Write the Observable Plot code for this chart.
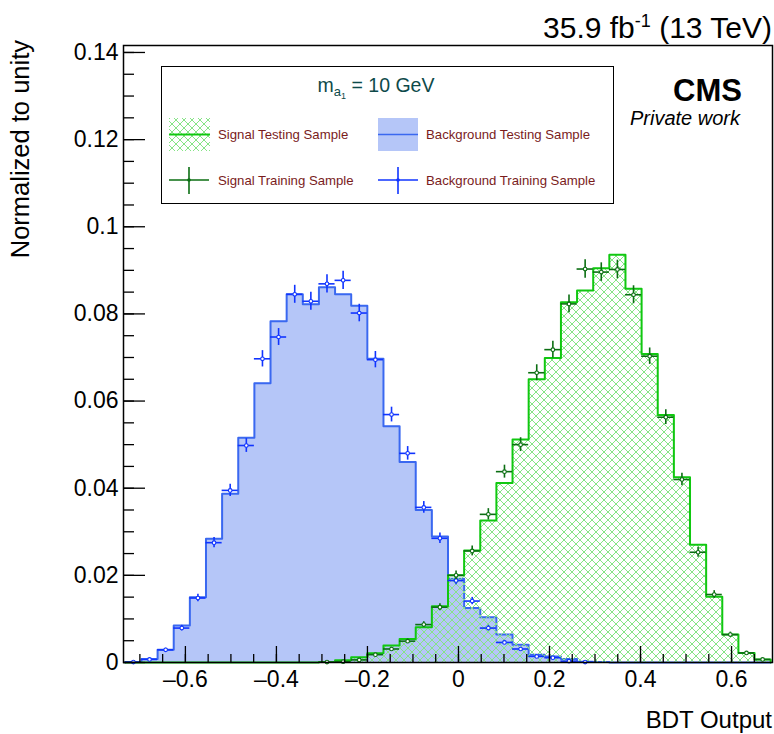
<!DOCTYPE html>
<html>
<head>
<meta charset="utf-8">
<script src="https://cdn.jsdelivr.net/npm/d3@7"></script>
<script src="https://cdn.jsdelivr.net/npm/@observablehq/plot@0.6"></script>
<style>
  html, body { margin: 0; padding: 0; background: #fff; }
  #chart { width: 774px; height: 734px; }
</style>
</head>
<body>
<svg width="0" height="0" style="position:absolute">
  <defs>
    <pattern id="hatch" patternUnits="userSpaceOnUse" width="8" height="8">
      <path d="M0,0L8,8M8,0L0,8M-1,7L1,9M7,-1L9,1M-1,1L1,-1M7,9L9,7" stroke="#86e486" stroke-width="1" fill="none"/>
    </pattern>
  </defs>
</svg>
<div id="chart"></div>
<script>
// ---- data ----
const binLo = -0.732;
const binHi = 0.686;
const nBins = 40;

const signalTesting = [
  0, 0, 0, 0, 0, 0, 0, 0, 0, 0,
  0, 0, 0.0001, 0.0005, 0.0012, 0.0021, 0.0039, 0.0054, 0.0081, 0.0129,
  0.0200, 0.0257, 0.0326, 0.0412, 0.0512, 0.0650, 0.0699, 0.0827, 0.0854, 0.0905,
  0.0936, 0.0858, 0.0708, 0.0568, 0.0425, 0.0270, 0.0151, 0.0064, 0.0022, 0.0007
];
const signalTraining = [
  0, 0, 0, 0, 0, 0, 0, 0, 0, 0,
  0, 0, 0.0001, 0.0002, 0.0006, 0.0018, 0.0031, 0.0049, 0.0087, 0.0127,
  0.0200, 0.0256, 0.0340, 0.0438, 0.0500, 0.0665, 0.0718, 0.0823, 0.0903, 0.0896,
  0.0902, 0.0844, 0.0703, 0.0563, 0.0420, 0.0253, 0.0156, 0.0064, 0.0022, 0.0007
];
const backgroundTesting = [
  0.0001, 0.0008, 0.0029, 0.0085, 0.0150, 0.0284, 0.0387, 0.0516, 0.0641, 0.0783,
  0.0845, 0.0822, 0.0861, 0.0845, 0.0819, 0.0697, 0.0542, 0.0460, 0.0350, 0.0289,
  0.0192, 0.0125, 0.0104, 0.0064, 0.0041, 0.0018, 0.0014, 0.0008, 0.0002, 0.0001,
  0, 0, 0, 0, 0, 0, 0, 0, 0, 0
];
const backgroundTraining = [
  0.0001, 0.0007, 0.0029, 0.0079, 0.0148, 0.0275, 0.0395, 0.0498, 0.0697, 0.0747,
  0.0845, 0.0829, 0.0869, 0.0877, 0.0802, 0.0695, 0.0569, 0.0480, 0.0356, 0.0285,
  0.0188, 0.0141, 0.0079, 0.0046, 0.0031, 0.0014, 0.0011, 0.0003, 0.0001, 0,
  0, 0, 0, 0, 0, 0, 0, 0, 0, 0
];

const xTicks = [-0.6, -0.4, -0.2, 0, 0.2, 0.4, 0.6];
const yTicks = [0, 0.02, 0.04, 0.06, 0.08, 0.1, 0.12, 0.14];
const xMinorTicks = d3.range(-0.70, 0.66, 0.05);
const yMinorTicks = d3.range(0, 0.1416, 0.005);

// ---- derived tables ----
const bw = (binHi - binLo) / nBins;
function stepPoints(vals) {
  const pts = [{x: binLo, y: 0}];
  vals.forEach((v, i) => pts.push({x: binLo + i * bw, y: v}));
  pts.push({x: binHi, y: vals[vals.length - 1]});
  pts.push({x: binHi, y: 0});
  return pts;
}
function pointTable(vals) {
  return vals.map((v, i) => ({
    x: binLo + (i + 0.5) * bw, x1: binLo + i * bw, x2: binLo + (i + 1) * bw,
    y: v, e: 0.0071 * Math.sqrt(v)
  })).filter(d => d.y > 0);
}
const bgStep = stepPoints(backgroundTesting);
const sigStep = stepPoints(signalTesting);
const bgPts = pointTable(backgroundTraining);
const sigPts = pointTable(signalTraining);

const W = 774, H = 734;
const mL = 123, mR = 2, mT = 45, mB = 72;
const iW = W - mL - mR, iH = H - mT - mB;

const blueFill = "#b5c6f8", blueLine = "#3a68f0", blueTrain = "#1034ff";
const greenLine = "#10c810", greenTrain = "#0b6e12";

const plot = Plot.plot({
  width: W, height: H,
  marginLeft: mL, marginRight: mR, marginTop: mT, marginBottom: mB,
  style: {fontFamily: "'Liberation Sans', Arial, sans-serif", fontSize: "23px", color: "black", background: "white"},
  x: {domain: [-0.736, 0.69]},
  y: {domain: [0, 0.1416]},
  marks: [
    Plot.areaY(bgStep, {x: "x", y: "y", curve: "step-after", fill: blueFill}),
    Plot.lineY(bgStep, {x: "x", y: "y", curve: "step-after", stroke: blueLine, strokeWidth: 2}),
    Plot.areaY(sigStep, {x: "x", y: "y", curve: "step-after", fill: "url(#hatch)"}),
    Plot.lineY(sigStep, {x: "x", y: "y", curve: "step-after", stroke: greenLine, strokeWidth: 2}),
    // training error bars
    Plot.ruleY(bgPts, {y: "y", x1: "x1", x2: "x2", stroke: blueTrain, strokeWidth: 1.6}),
    Plot.ruleX(bgPts, {x: "x", y1: d => d.y - d.e, y2: d => d.y + d.e, stroke: blueTrain, strokeWidth: 1.6}),
    Plot.dot(bgPts, {x: "x", y: "y", r: 1.8, stroke: blueTrain, fill: "white", strokeWidth: 1.1}),
    Plot.ruleY(sigPts, {y: "y", x1: "x1", x2: "x2", stroke: greenTrain, strokeWidth: 1.6}),
    Plot.ruleX(sigPts, {x: "x", y1: d => d.y - d.e, y2: d => d.y + d.e, stroke: greenTrain, strokeWidth: 1.6}),
    Plot.dot(sigPts, {x: "x", y: "y", r: 1.8, stroke: greenTrain, fill: "white", strokeWidth: 1.1}),
    // ticks inside the frame
    Plot.tickY(yTicks, {y: d => d, insetRight: iW - 22, stroke: "black", strokeWidth: 1.3}),
    Plot.tickY(yMinorTicks, {y: d => d, insetRight: iW - 11, stroke: "black", strokeWidth: 1.3}),
    Plot.tickX(xTicks, {x: d => d, insetTop: iH - 16, stroke: "black", strokeWidth: 1.3}),
    Plot.tickX(xMinorTicks, {x: d => d, insetTop: iH - 8, stroke: "black", strokeWidth: 1.3}),
    Plot.axisY(yTicks, {tickSize: 0, tickPadding: 5, label: null, fontSize: 23, tickFormat: d => String(d)}),
    Plot.axisX(xTicks, {tickSize: 0, tickPadding: 8, label: null, fontSize: 23,
      tickFormat: d => d < 0 ? "\u2013" + String(Math.abs(d)) : String(d)}),
    Plot.frame({stroke: "black", strokeWidth: 1.5})
  ]
});
document.getElementById("chart").appendChild(plot);

// ---- annotations & legend ----
const svg = d3.select(plot);
const ff = "'Liberation Sans', Arial, sans-serif";

// axis titles
svg.append("text").attr("x", 772).attr("y", 728).attr("text-anchor", "end")
  .attr("font-family", ff).attr("font-size", 24).text("BDT Output");
svg.append("text").attr("transform", "translate(29,40) rotate(-90)").attr("text-anchor", "end")
  .attr("font-family", ff).attr("font-size", 25.5).text("Normalized to unity");

// lumi label
const lumi = svg.append("text").attr("x", 772).attr("y", 38).attr("text-anchor", "end")
  .attr("font-family", ff).attr("font-size", 30);
lumi.append("tspan").text("35.9 fb");
lumi.append("tspan").attr("dy", -11).attr("font-size", 18).text("-1");
lumi.append("tspan").attr("dy", 11).text(" (13 TeV)");

// CMS
svg.append("text").attr("x", 742).attr("y", 101).attr("text-anchor", "end")
  .attr("font-family", ff).attr("font-size", 31).attr("font-weight", "bold").text("CMS");
svg.append("text").attr("x", 740).attr("y", 125).attr("text-anchor", "end")
  .attr("font-family", ff).attr("font-size", 20).attr("font-style", "italic").text("Private work");

// legend
const lg = svg.append("g");
lg.append("rect").attr("x", 161.5).attr("y", 66.5).attr("width", 452).attr("height", 137)
  .attr("fill", "white").attr("stroke", "black").attr("stroke-width", 1);
const t = lg.append("text").attr("x", 376).attr("y", 92).attr("text-anchor", "middle")
  .attr("font-family", ff).attr("font-size", 19.5).attr("fill", "#0e4a4a");
t.append("tspan").text("m");
t.append("tspan").attr("dy", 4).attr("font-size", 13).text("a");
t.append("tspan").attr("dy", 3).attr("font-size", 9).text("1");
t.append("tspan").attr("dy", -7).attr("font-size", 19.5).text(" = 10 GeV");

const txtCol = "#7a1c1c";
// signal testing
lg.append("rect").attr("x", 169).attr("y", 118).attr("width", 41).attr("height", 33).attr("fill", "url(#hatch)");
lg.append("line").attr("x1", 169).attr("x2", 210).attr("y1", 134.5).attr("y2", 134.5).attr("stroke", greenLine).attr("stroke-width", 2);
// background testing
lg.append("rect").attr("x", 378).attr("y", 118).attr("width", 40).attr("height", 33).attr("fill", blueFill);
lg.append("line").attr("x1", 378).attr("x2", 418).attr("y1", 134.5).attr("y2", 134.5).attr("stroke", blueLine).attr("stroke-width", 1.5);
// training markers
[[169, greenTrain], [378, blueTrain]].forEach(([x0, c]) => {
  lg.append("line").attr("x1", x0).attr("x2", x0 + 40).attr("y1", 180).attr("y2", 180).attr("stroke", c).attr("stroke-width", 1.6);
  lg.append("line").attr("x1", x0 + 20).attr("x2", x0 + 20).attr("y1", 167).attr("y2", 194).attr("stroke", c).attr("stroke-width", 1.6);
  lg.append("circle").attr("cx", x0 + 20).attr("cy", 180).attr("r", 1.8).attr("fill", c);
});
[["Signal Testing Sample", 218, 139], ["Background Testing Sample", 426, 139],
 ["Signal Training Sample", 218, 185], ["Background Training Sample", 426, 185]].forEach(([s, x, y]) => {
  lg.append("text").attr("x", x).attr("y", y).attr("text-anchor", "start").attr("font-family", ff).attr("font-size", 13.2)
    .attr("fill", txtCol).text(s);
});
</script>
</body>
</html>
